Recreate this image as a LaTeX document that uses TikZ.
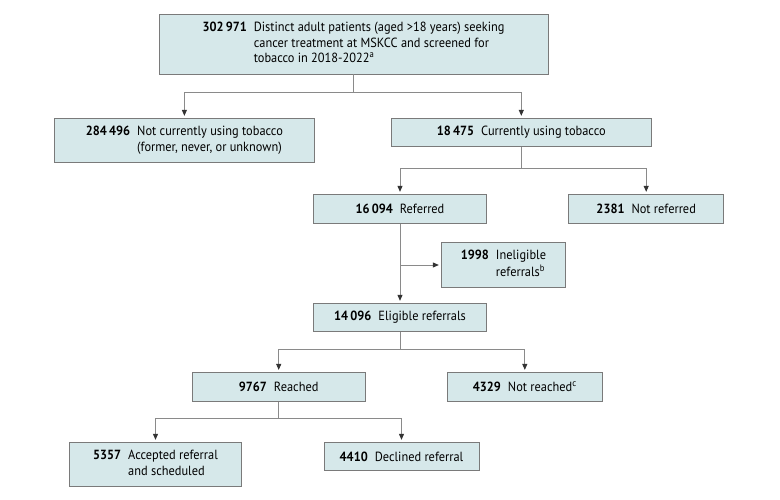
\documentclass[tikz,border=0pt]{standalone}
\usepackage{fontspec}
\setmainfont{PT Sans}[FakeStretch=0.93]
\usetikzlibrary{arrows.meta,calc}
\definecolor{boxfill}{HTML}{D6E8EA}
\definecolor{boxline}{HTML}{7A7A7A}
\definecolor{conline}{HTML}{8A8A8A}
\definecolor{tipcol}{HTML}{333333}
\tikzset{
  fbox/.style={draw=boxline, fill=boxfill, line width=0.9pt, inner sep=0pt, align=center,
    font=\fontsize{13.3}{15.8}\selectfont},
  con/.style={draw=conline, line width=0.9pt},
  arr/.style={con, -{Triangle[length=6pt,width=5pt,color=tipcol]}, shorten >=2pt},
}
\newcommand{\nb}[1]{\textbf{#1}\hspace{7pt}}
\newcommand{\tb}[1]{\begin{tabular}[t]{@{}l@{}}#1\end{tabular}}
\begin{document}
\begin{tikzpicture}[x=1pt,y=-1pt]
\useasboundingbox (0,0) rectangle (780,499);
\node[fbox, minimum width=389pt, minimum height=60pt] (top) at (353.5,44)
  {\nb{302\,971}\tb{Distinct adult patients (aged >18 years) seeking\\cancer treatment at MSKCC and screened for\\tobacco in 2018-2022\textsuperscript{a}}};
\node[fbox, minimum width=260pt, minimum height=44pt] (A) at (184.4,140.3)
  {\nb{284\,496}\tb{Not currently using tobacco\\(former, never, or unknown)}};
\node[fbox, minimum width=259.5pt, minimum height=28.4pt] (B) at (521.3,132.5)
  {\nb{18\,475}Currently using tobacco};
\node[fbox, minimum width=173.4pt, minimum height=29pt] (C) at (400,208.8)
  {\nb{16\,094}Referred};
\node[fbox, minimum width=155pt, minimum height=29pt] (D) at (646.2,208.8)
  {\nb{2381}Not referred};
\node[fbox, minimum width=124.4pt, minimum height=44.6pt] (inel) at (503.5,265)
  {\nb{1998}\tb{Ineligible\\referrals\textsuperscript{b}}};
\node[fbox, minimum width=173.4pt, minimum height=28.4pt] (E) at (400,317.5)
  {\nb{14\,096}Eligible referrals};
\node[fbox, minimum width=172.7pt, minimum height=29pt] (F) at (278.7,386.9)
  {\nb{9767}Reached};
\node[fbox, minimum width=155pt, minimum height=28.7pt] (G) at (524.8,386.7)
  {\nb{4329}Not reached\textsuperscript{c}};
\node[fbox, minimum width=172.4pt, minimum height=44.4pt] (H) at (155.5,464.5)
  {\nb{5357}\tb{Accepted referral\\and scheduled}};
\node[fbox, minimum width=155pt, minimum height=28.4pt] (I) at (401.5,456.5)
  {\nb{4410}Declined referral};
% connectors
\coordinate (j1) at ($(top.south)+(0,18.3)$);
\draw[con] (top.south) -- (j1);
\draw[arr] (j1) -| (A);
\draw[arr] (j1) -| (B);
\coordinate (j2) at ($(B.south)+(0,21.6)$);
\draw[con] (B.south) -- (j2);
\draw[arr] (j2) -| (C);
\draw[arr] (j2) -| (D);
\draw[arr] (C) -- (E);
\draw[arr] (C.south |- inel.west) -- (inel);
\coordinate (j3) at ($(E.south)+(0,17.6)$);
\draw[con] (E.south) -- (j3);
\draw[arr] (j3) -| (F);
\draw[arr] (j3) -| (G);
\coordinate (j4) at ($(F.south)+(0,16.8)$);
\draw[con] (F.south) -- (j4);
\draw[arr] (j4) -| (H);
\draw[arr] (j4) -| (I);
\end{tikzpicture}
\end{document}
